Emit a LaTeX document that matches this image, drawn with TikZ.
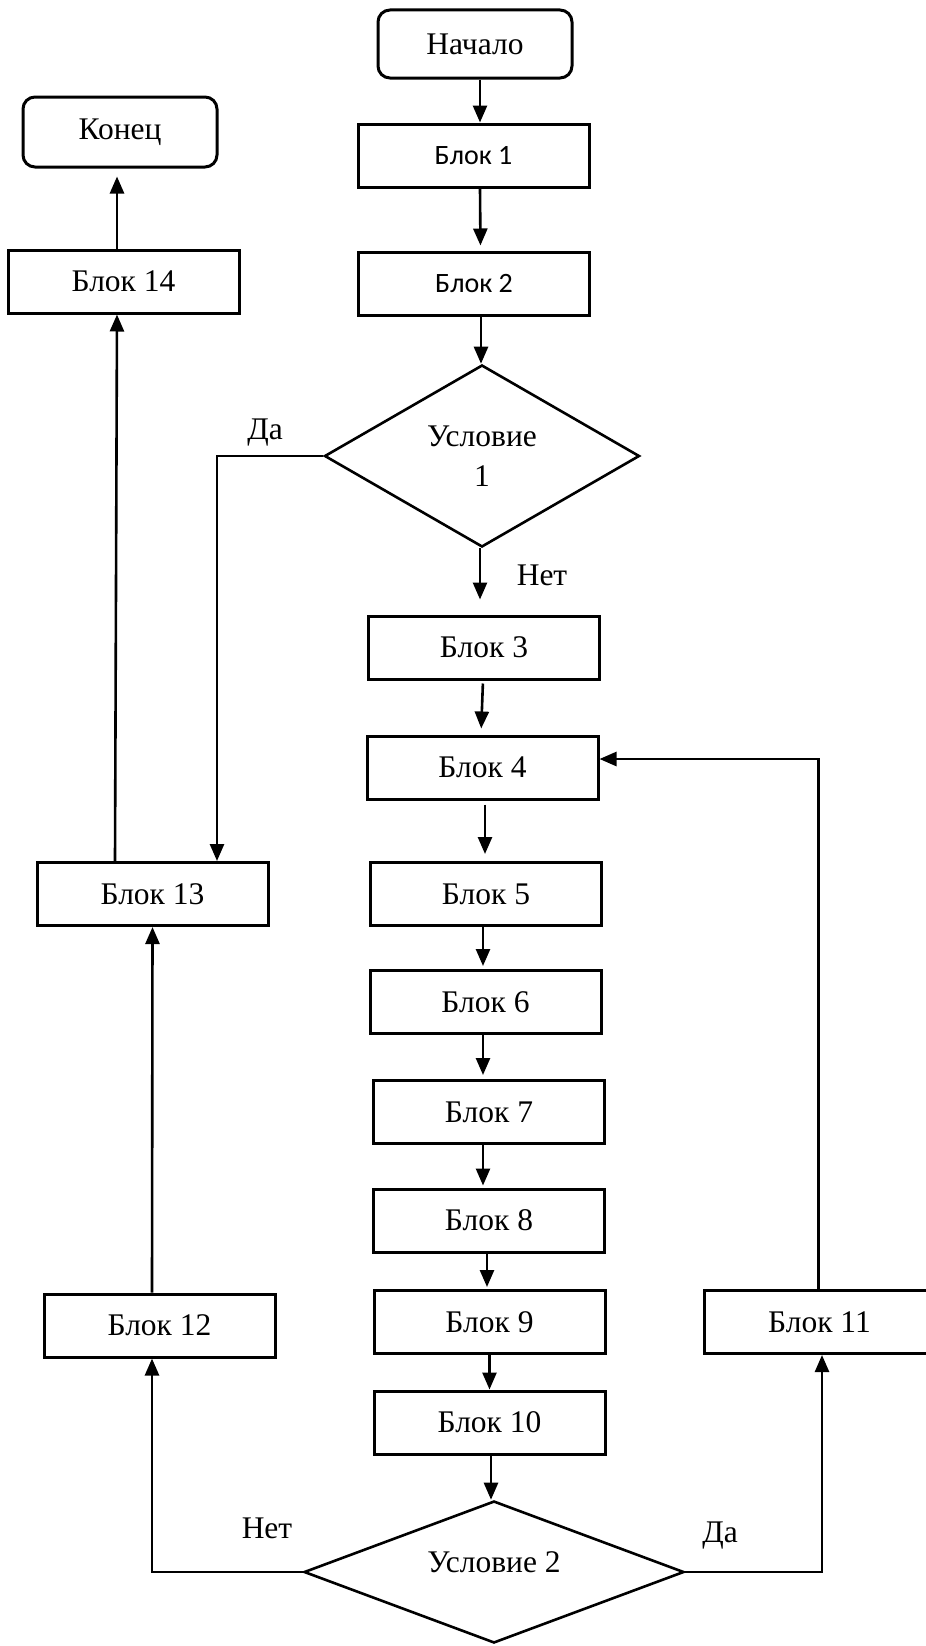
\documentclass[tikz,border=0pt]{standalone}
\usepackage{fontspec}
\setmainfont{Liberation Serif}
\newfontfamily\calib{Carlito}
\usetikzlibrary{shapes.geometric,arrows.meta}
\begin{document}
\begin{tikzpicture}[x=1pt,y=-1pt,
  tx/.style={font=\fontsize{31.5}{40}\selectfont},
  box/.style={draw, line width=3pt, minimum width=231pt, minimum height=63pt, inner sep=0pt, tx},
  sbox/.style={box, font=\calib\fontsize{28}{34}\selectfont},
  term/.style={box, rounded corners=12pt, minimum width=194pt, minimum height=68pt},
  dec/.style={draw, diamond, line width=2.6pt, inner sep=0pt, align=center, tx},
  lbl/.style={inner sep=0pt, tx},
  arr/.style={line width=2.6pt, -{Triangle[width=14pt,length=17pt]}}
]
\fill[white] (0,0) rectangle (926,1646);
\useasboundingbox (0,0) rectangle (926,1646);

\node[term] (start) at (475,44) {Начало};
\node[sbox] (b1) at (473.5,155.5) {Блок 1};
\node[sbox] (b2) at (474,283.5) {Блок 2};
\node[dec, minimum width=315pt, minimum height=182pt] (d1) at (482,456) {Условие\\1};
\node[box] (b3) at (484,647.5) {Блок 3};
\node[box] (b4) at (482.5,767.5) {Блок 4};
\node[box] (b5) at (486,894) {Блок 5};
\node[box] (b6) at (485.5,1002) {Блок 6};
\node[box] (b7) at (489,1112) {Блок 7};
\node[box] (b8) at (489,1220.5) {Блок 8};
\node[box] (b9) at (489.5,1322) {Блок 9};
\node[box] (b10) at (489.5,1422.5) {Блок 10};
\node[dec, minimum width=380pt, minimum height=142pt] (d2) at (494,1572) {};
\node[lbl] (d2t) at ([yshift=10pt]d2.center) {Условие 2};
\node[box] (b11) at (819.5,1322) {Блок 11};
\node[box] (b12) at (159.5,1325.5) {Блок 12};
\node[box] (b13) at (152.5,894) {Блок 13};
\node[box] (b14) at (123.5,281.5) {Блок 14};
\node[term, minimum height=70pt] (end) at (120,132) {Конец};

\node[lbl] (da1) at (265,433) {Да};
\node[lbl] (net1) at (542,575) {Нет};
\node[lbl] (net2) at (267,1528) {Нет};
\node[lbl] (da2) at (720,1536) {Да};

\draw[arr] ([xshift=5pt]start.south) -- ([xshift=6.5pt]b1.north);
\draw[arr, shorten >=5pt] ([xshift=6.5pt]b1.south) -- ([xshift=6.5pt]b2.north);
\draw[arr] ([xshift=7pt]b2.south) -- ([xshift=-1pt]d1.north);
\draw[arr, shorten >=15pt] ([xshift=-2pt]d1.south) -- ([xshift=-4pt]b3.north);
\draw[arr, shorten <=3pt, shorten >=6pt] ([xshift=-1pt]b3.south) -- ([xshift=-1.5pt]b4.north);
\draw[arr, shorten <=4pt, shorten >=7pt] ([xshift=2.5pt]b4.south) -- ([xshift=-1pt]b5.north);
\draw[arr, shorten >=3pt] ([xshift=-3pt]b5.south) -- ([xshift=-2.5pt]b6.north);
\draw[arr, shorten >=4pt] ([xshift=-2.5pt]b6.south) -- ([xshift=-6pt]b7.north);
\draw[arr, shorten >=2pt] ([xshift=-6pt]b7.south) -- ([xshift=-6pt]b8.north);
\draw[arr, shorten >=2pt] ([xshift=-2pt]b8.south) -- ([xshift=-2.5pt]b9.north);
\draw[arr] (b9.south) -- (b10.north);
\draw[arr] ([xshift=1.5pt]b10.south) -- ([xshift=-3pt]d2.north);
\draw[arr] (d2.west) -| ([xshift=-7.5pt]b12.south);
\draw[arr] (d2.east) -| ([xshift=2.5pt]b11.south);
\draw[arr] ([xshift=-1pt]b11.north) |- ([yshift=8.5pt]b4.east);
\draw[arr] ([xshift=-7.5pt]b12.north) -- (b13.south);
\draw[arr] (d1.west) -| ([xshift=64.5pt]b13.north);
\draw[arr] ([xshift=-37.5pt]b13.north) -- ([xshift=-6.5pt]b14.south);
\draw[arr, shorten >=8pt] ([xshift=-6.5pt]b14.north) -- ([xshift=-3pt]end.south);
\end{tikzpicture}
\end{document}
